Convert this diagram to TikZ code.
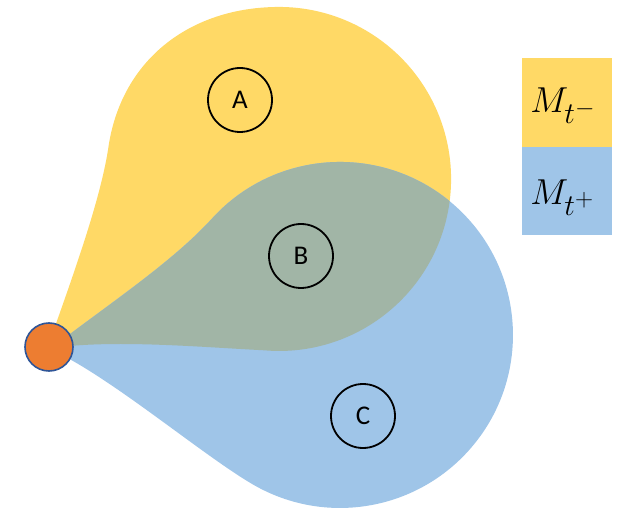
\documentclass[tikz,border=0pt]{standalone}
\usepackage{fontspec}
\setmainfont{Carlito}
\definecolor{ylw}{HTML}{FFD966}
\definecolor{blu}{HTML}{9FC5E8}
\definecolor{ovl}{HTML}{A1B5A6}
\definecolor{dotfill}{HTML}{ED7D31}
\definecolor{dotline}{HTML}{2F5597}
\begin{document}
\begin{tikzpicture}[x=1pt,y=-1pt,
  region/.style={circle,draw=black,line width=1.8pt,minimum size=64pt,inner sep=0pt,font=\fontsize{27}{27}\selectfont},
  legend/.style={anchor=base west,inner sep=0pt,font=\fontsize{24.88}{25}\selectfont,scale=1.45,transform shape}]
\useasboundingbox (0,0) rectangle (618,510);
\def\yellowpath{(60,347) .. controls (120,340) and (200,347) .. (264.1,350.3)
  arc[start angle=95,end angle=-90,radius=172]
  .. controls (190,7) and (120,60) .. (108,150)
  .. controls (100,200) and (75,270) .. (52,335) -- cycle}
\def\bluepath{(62,340) .. controls (115,300) and (174,260) .. (211.4,219.2)
  arc[start angle=222,end angle=480,radius=173]
  .. controls (205.9,457.3) and (120,385) .. (62,355) -- cycle}
\fill[ylw] \yellowpath;
\fill[blu] \bluepath;
\begin{scope}
  \clip \yellowpath;
  \fill[ovl] \bluepath;
\end{scope}
\node[circle,fill=dotfill,draw=dotline,line width=1.6pt,minimum size=48pt,inner sep=0pt] (o) at (49,347) {};
\node[region] (a) at (240,100) {A};
\node[region] (b) at (301,256) {B};
\node[region] (c) at (363,416) {C};
\fill[ylw] (522,58) rectangle (612,147);
\fill[blu] (522,147) rectangle (612,235);
\node[legend] (lm) at (530,113) {$M_{t^-}$};
\node[legend] (lp) at (530,205) {$M_{t^+}$};
\end{tikzpicture}
\end{document}
